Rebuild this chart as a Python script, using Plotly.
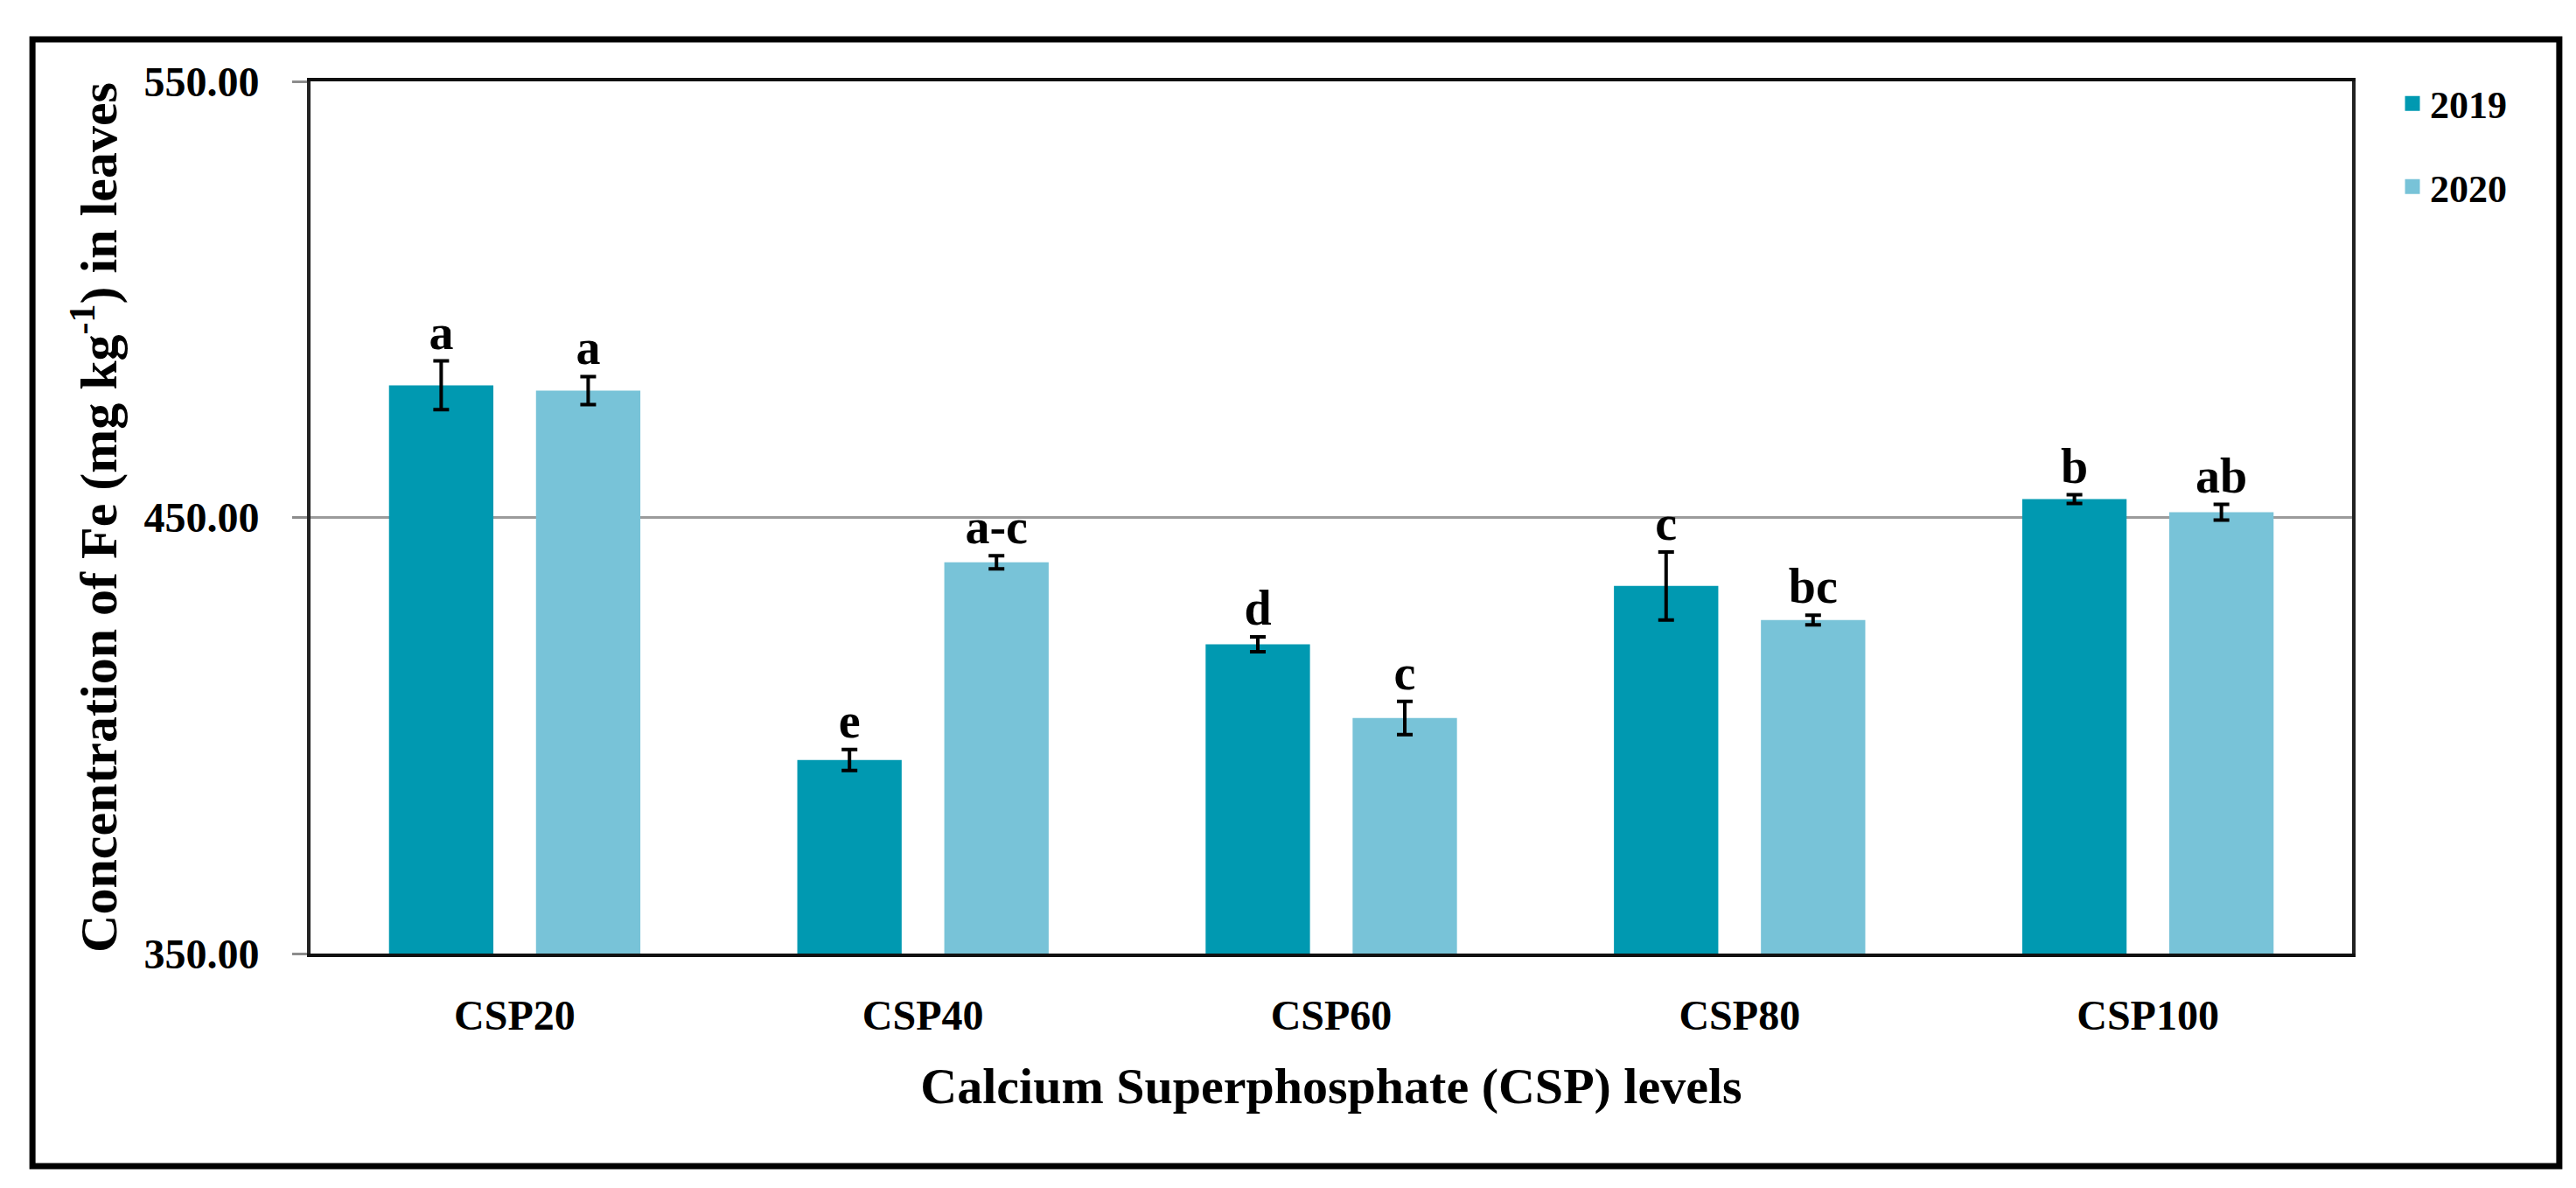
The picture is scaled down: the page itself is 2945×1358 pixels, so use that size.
import plotly.graph_objects as go

categories = ["CSP20", "CSP40", "CSP60", "CSP80", "CSP100"]
years = ["2019", "2020"]
fe_2019 = [480.3, 394.4, 420.9, 434.3, 454.2]
err_2019 = [5.6, 2.4, 1.7, 7.8, 1.0]
fe_2020 = [479.1, 439.7, 404.0, 426.5, 451.2]
err_2020 = [3.2, 1.5, 3.8, 1.1, 1.8]
letters_2019 = ["a", "e", "d", "c", "b"]
letters_2020 = ["a", "a-c", "c", "bc", "ab"]
y_ticks = [350, 450, 550]

colors = ["#0099b1", "#78c3d8"]
SERIF = "Liberation Serif"

fig = go.Figure()
series = [(fe_2019, err_2019, letters_2019), (fe_2020, err_2020, letters_2020)]
for i, (vals, errs, lets) in enumerate(series):
    fig.add_trace(go.Bar(
        x=categories, y=vals, name=years[i], offsetgroup=years[i],
        marker=dict(color=colors[i], line=dict(width=0)),
        error_y=dict(type="data", array=errs, color="black", thickness=4, width=9),
        legendgroup=years[i], showlegend=False,
    ))
    # legend entry (larger swatch, no bar drawn)
    fig.add_trace(go.Bar(
        x=[categories[0]], y=[None], name=years[i], offsetgroup=years[i],
        marker=dict(color=colors[i], line=dict(width=14, color=colors[i])),
        legendgroup=years[i], showlegend=True, hoverinfo="skip",
    ))
for i, (vals, errs, lets) in enumerate(series):
    fig.add_trace(go.Scatter(
        x=categories, y=[v + e for v, e in zip(vals, errs)], mode="text",
        text=lets, textposition="top center", offsetgroup=years[i],
        textfont=dict(family=SERIF, size=56, color="black", weight="bold"),
        showlegend=False, hoverinfo="skip",
    ))

fig.update_layout(
    width=2945, height=1358,
    margin=dict(l=347, r=264, t=85, b=276, autoexpand=False),
    paper_bgcolor="white", plot_bgcolor="white",
    barmode="group", bargap=0.28, bargroupgap=0.29,
    scattermode="group", scattergap=0.28,
    font=dict(family=SERIF, color="black"),
    legend=dict(
        x=1.021, xanchor="left", y=1.01, yanchor="top",
        font=dict(family=SERIF, size=44, color="black", weight="bold"),
        tracegroupgap=35, traceorder="grouped", bgcolor="rgba(0,0,0,0)",
    ),
    shapes=[dict(
        type="rect", xref="paper", yref="paper",
        x0=-0.1362, x1=1.1015, y0=-0.2437, y1=1.0481,
        line=dict(color="black", width=7), layer="above",
    )],
)

fig.update_xaxes(
    type="category", showgrid=False, ticks="",
    showline=True, linecolor="#111111", linewidth=4, mirror=True,
    tickfont=dict(family=SERIF, size=48, color="black", weight="bold"),
    ticklabelstandoff=25,
    title=dict(text="Calcium Superphosphate (CSP) levels",
               font=dict(family=SERIF, size=58, color="black", weight="bold"),
               standoff=36),
)
fig.update_yaxes(
    range=[350, 550], tickvals=y_ticks, tickformat=".2f",
    showgrid=True, gridcolor="#9b9b9b", gridwidth=3,
    ticks="outside", ticklen=17, tickwidth=3, tickcolor="#8c8c8c",
    showline=True, linecolor="#222222", linewidth=4, mirror=True,
    tickfont=dict(family=SERIF, size=48, color="black", weight="bold"),
    ticklabelstandoff=28, zeroline=False,
    title=dict(text="Concentration of Fe (mg kg<sup>-1</sup>) in leaves",
               font=dict(family=SERIF, size=60, color="black", weight="bold"),
               standoff=12),
)

fig.write_html("out.html")
